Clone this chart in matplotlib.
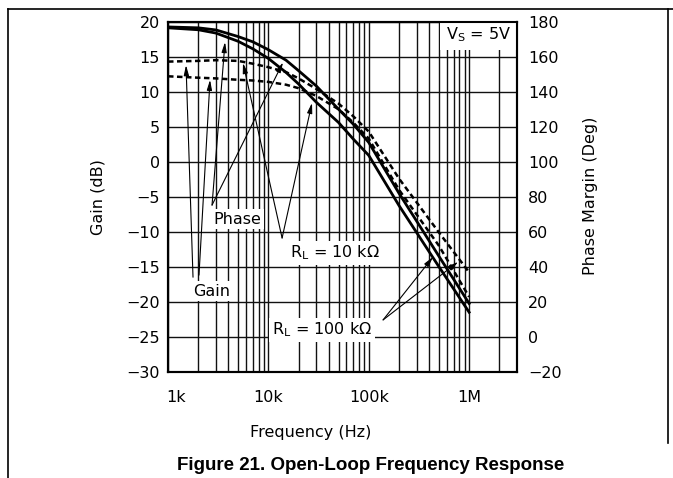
import matplotlib.pyplot as plt
import matplotlib.transforms as mtransforms
from matplotlib.lines import Line2D
from matplotlib.ticker import FixedLocator, NullFormatter

plt.rcParams['font.family'] = 'DejaVu Sans'
plt.rcParams['mathtext.default'] = 'regular'

# data
freq = [1e3, 2e3, 3e3, 5e3, 7e3, 10e3, 15e3, 20e3, 30e3, 50e3, 70e3,
        100e3, 200e3, 500e3, 1e6]
# gain in dB (dashed)
gain_rl10k = [14.3, 14.4, 14.5, 14.4, 14.0, 13.5, 12.8, 11.9, 10.4, 8.3, 6.5,
              4.3, -2.4, -10.1, -15.8]
gain_rl100k = [12.2, 12.0, 11.9, 11.7, 11.6, 11.4, 11.0, 10.5, 9.4, 7.5, 5.6,
               3.3, -4.0, -12.0, -19.3]
# phase margin in deg (solid)
phase_rl100k = [177, 176.5, 175.3, 171.5, 168.5, 164, 158, 152, 143.3, 130, 121.5,
                111, 82, 46, 19]
phase_rl10k = [176.5, 175.4, 173.5, 168.8, 164.5, 159, 151, 144.4, 134, 122.4, 113,
               103.6, 75, 40, 14]

x_ticks = [1e3, 1e4, 1e5, 1e6]
x_labels = ['1k', '10k', '100k', '1M']
gain_ticks = list(range(-30, 21, 5))
phase_ticks = list(range(-20, 181, 20))

FS = 11.5

fig = plt.figure(figsize=(6.73, 4.78), dpi=100)
ax = fig.add_axes([168 / 673, 1 - 371.7 / 478, 349 / 673, 350 / 478])

ax.set_xscale('log')
ax.set_xlim(1e3, 3e6)
ax.set_ylim(-30, 20)
ax.set_xticks(x_ticks)
ax.set_xticklabels(x_labels, fontsize=FS)
minor = [m * 10 ** e for e in range(3, 6) for m in range(2, 10)] + [2e6]
ax.xaxis.set_minor_locator(FixedLocator(minor))
ax.xaxis.set_minor_formatter(NullFormatter())
ax.set_yticks(gain_ticks)
ax.set_yticklabels([str(t).replace('-', '\u2212') for t in gain_ticks], fontsize=FS)
ax.tick_params(which='both', length=0)
ax.tick_params(axis='x', pad=13)
ax.tick_params(axis='y', pad=6)
# first label sits a bit to the right in the original
lbl = ax.get_xticklabels()[0]
lbl.set_transform(lbl.get_transform() + mtransforms.ScaledTranslation(0.08, 0, fig.dpi_scale_trans))
ax.grid(which='both', axis='x', color='#111111', lw=1.0)
ax.grid(which='major', axis='y', color='#111111', lw=1.0)
ax.set_axisbelow(True)
for s in ax.spines.values():
    s.set_linewidth(1.5)

dash = (0, (2.2, 1.4))
ax.plot(freq, gain_rl10k, color='k', lw=1.8, ls=dash, zorder=3)
ax.plot(freq, gain_rl100k, color='k', lw=1.8, ls=dash, zorder=3)

ax2 = ax.twinx()
ax2.set_ylim(-20, 180)
ax2.set_yticks(phase_ticks)
ax2.set_yticklabels([str(t).replace('-', '\u2212') for t in phase_ticks], fontsize=FS)
ax2.tick_params(length=0, pad=8)
for s in ax2.spines.values():
    s.set_linewidth(1.5)
ax2.plot(freq, phase_rl100k, color='k', lw=2.0)
ax2.plot(freq, phase_rl10k, color='k', lw=2.0)

# labels and arrows
box = dict(fc='white', ec='none', pad=2)
ap = dict(arrowstyle='-|>,head_length=0.6,head_width=0.15', color='k', lw=0.8,
          mutation_scale=10, shrinkA=0, shrinkB=0)


def arrows(start, targets):
    for t in targets:
        ax.annotate('', xy=t, xytext=start, arrowprops=ap, zorder=3.5)


arrows((1775, -16.5), [(1512, 13.8)])
arrows((2036, -16.2), [(2622, 11.7)])
arrows((2746, -6.2), [(3698, 17.1), (14.0e3, 14.2)])
arrows((13.7e3, -10.9), [(5.59e3, 14.1), (27.2e3, 8.4)])
arrows((139e3, -22.6), [(437e3, -13.6), (778e3, -14.3)])

ax.text(4880, -8.2, 'Phase', ha='center', va='center', fontsize=FS, bbox=box, zorder=4)
ax.text(2746, -18.5, 'Gain', ha='center', va='center', fontsize=FS, bbox=box, zorder=4)
ax.text(46.2e3, -13.0, 'R$_L$ = 10 k\u03a9', ha='center', va='center', fontsize=FS,
        bbox=box, zorder=4)
ax.text(34.4e3, -24.0, 'R$_L$ = 100 k\u03a9', ha='center', va='center', fontsize=FS,
        bbox=box, zorder=4)
ax.text(1.23e6, 18.1, 'V$_S$ = 5V', ha='center', va='center', fontsize=FS,
        bbox=dict(fc='white', ec='none', pad=4), zorder=4)

fig.text(98 / 673, 1 - 197 / 478, 'Gain (dB)', rotation=90, ha='center', va='center',
         fontsize=FS)
fig.text(591 / 673, 1 - 196 / 478, 'Phase Margin (Deg)', rotation=90, ha='center',
         va='center', fontsize=FS)
fig.text(311 / 673, 1 - 433 / 478, 'Frequency (Hz)', ha='center', va='center', fontsize=FS)
fig.text(371 / 673, 1 - 465 / 478, 'Figure 21. Open-Loop Frequency Response',
         ha='center', va='center', fontsize=13.5, fontweight='bold',
         family='Liberation Sans')

# frame of the page cell
fig.add_artist(Line2D([8 / 673, 8 / 673], [0, 1 - 9 / 478], transform=fig.transFigure,
                      color='k', lw=1.2))
fig.add_artist(Line2D([8 / 673, 1], [1 - 9 / 478, 1 - 9 / 478], transform=fig.transFigure,
                      color='k', lw=1.2))
fig.add_artist(Line2D([668 / 673, 668 / 673], [1 - 443 / 478, 1 - 9 / 478],
                      transform=fig.transFigure, color='k', lw=1.2))

fig.savefig('out.png', dpi=100)
